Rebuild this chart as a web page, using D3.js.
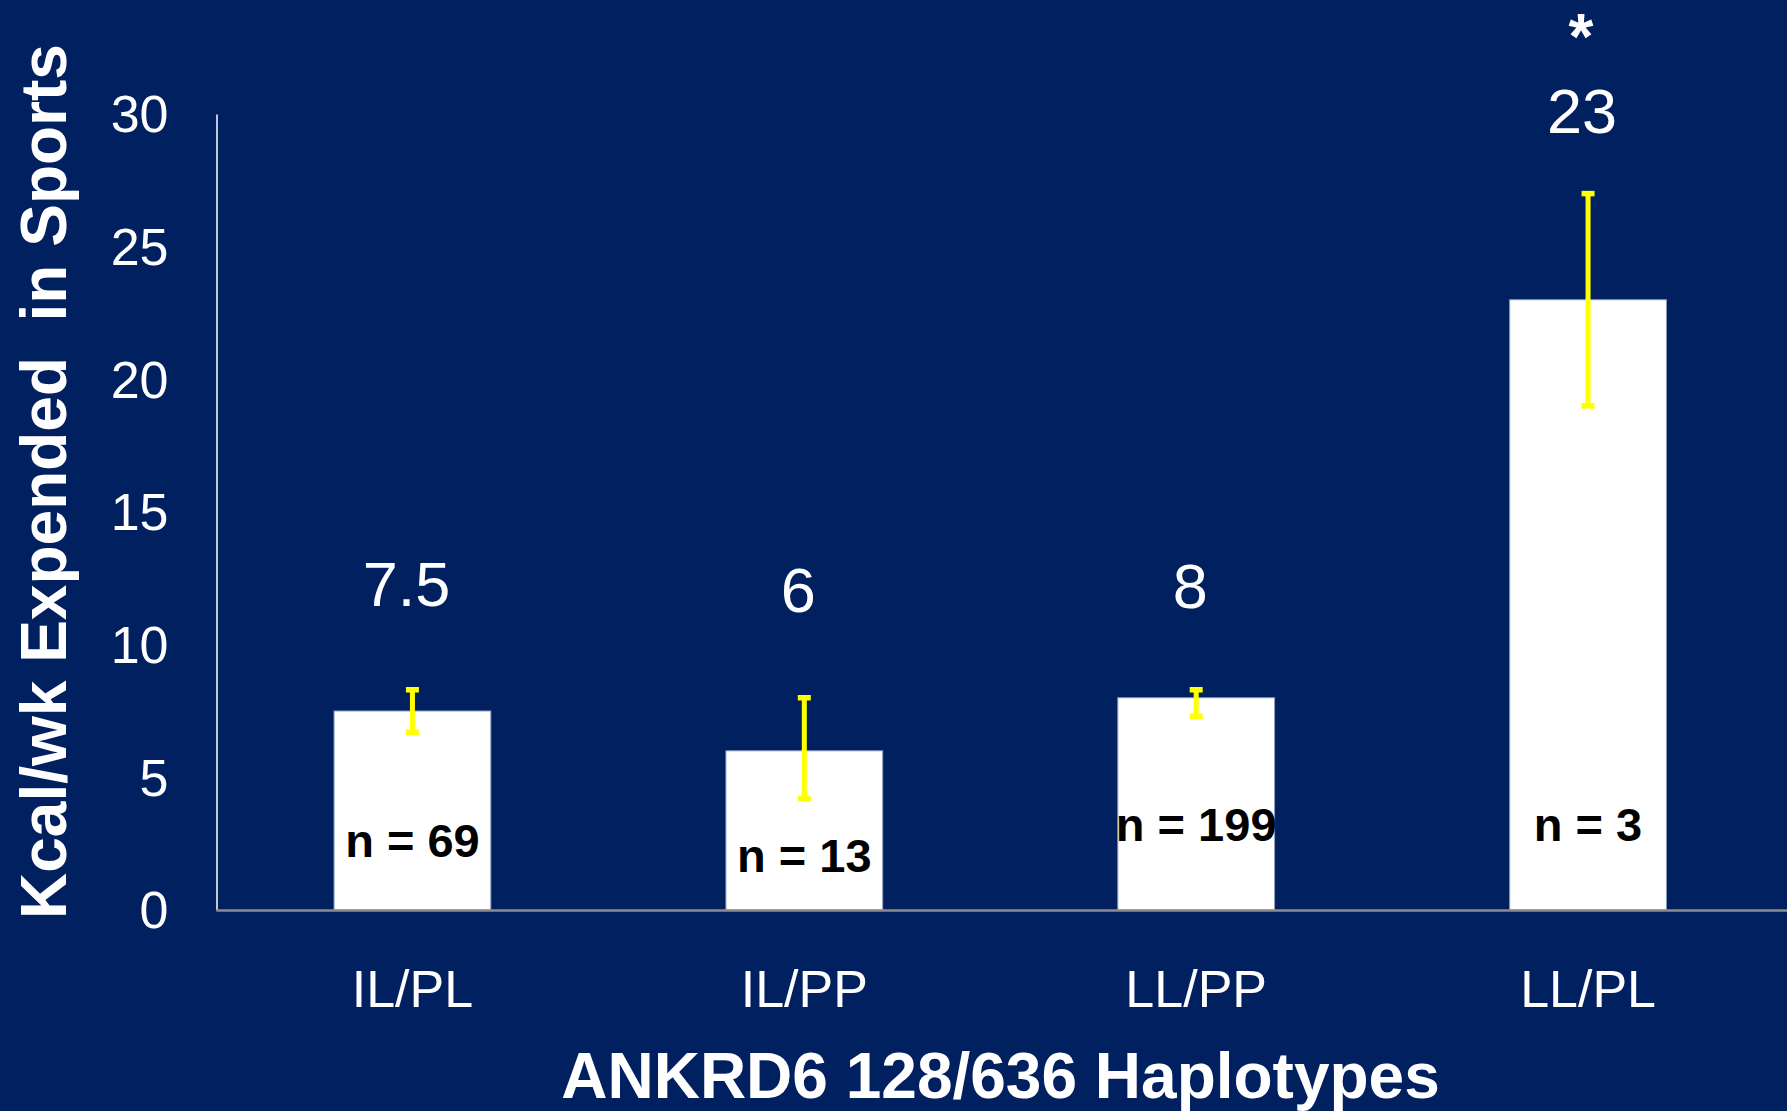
<!DOCTYPE html>
<html>
<head>
<meta charset="utf-8">
<script src="https://cdn.jsdelivr.net/npm/d3@7/dist/d3.min.js"></script>
<style>
  html, body { margin: 0; padding: 0; background: #002060; }
  svg { display: block; }
  text { font-family: "Liberation Sans", Arial, Helvetica, sans-serif; }
</style>
</head>
<body>
<svg id="chart" width="1787" height="1111"></svg>
<script>
// Haplotype groups and mean weekly energy expenditure in sports
const categories = ["IL/PL", "IL/PP", "LL/PP", "LL/PL"];
const means      = [7.5, 6, 8, 23];
const valueText  = ["7.5", "6", "8", "23"];
const errUpper   = [8.3, 8.0, 8.3, 27.0];
const errLower   = [6.7, 4.2, 7.3, 19.0];
const sampleN    = [69, 13, 199, 3];
const significant = [false, false, false, true];
const yTicks     = [0, 5, 10, 15, 20, 25, 30];

// Label placement, in axis units
const valueLabelAt = [11.45, 11.25, 11.4, 29.3];
const nLabelAt     = [2.0, 1.45, 2.6, 2.6];

const W = 1787, H = 1111;
const plot = { left: 216.5, right: 1784, top: 114, bottom: 910 };

const svg = d3.select("#chart");
svg.append("rect").attr("width", W).attr("height", H).attr("fill", "#002060");

const x = d3.scaleBand()
  .domain(categories)
  .range([plot.left, plot.right])
  .paddingInner(0.6)
  .paddingOuter(0.3);

const y = d3.scaleLinear().domain([0, 30]).range([plot.bottom, plot.top]);

const rows = categories.map((c, i) => ({
  cat: c, mean: means[i], text: valueText[i], hi: errUpper[i], lo: errLower[i],
  n: sampleN[i], sig: significant[i], labelAt: valueLabelAt[i], nAt: nLabelAt[i]
}));

// Y axis
const yAxis = svg.append("g")
  .attr("transform", `translate(${plot.left},0)`)
  .call(d3.axisLeft(y).tickValues(yTicks).tickSize(0).tickSizeOuter(0).tickPadding(48));
yAxis.select(".domain").attr("stroke", "#ffffff").attr("stroke-width", 1.5);
yAxis.selectAll(".tick text")
  .attr("fill", "#ffffff")
  .attr("font-size", 52)
  .attr("dy", "0.34em")
  .style("font-family", "'Liberation Sans', Arial, sans-serif");

// Bars
svg.append("g").selectAll("rect")
  .data(rows)
  .join("rect")
  .attr("x", d => x(d.cat))
  .attr("y", d => y(d.mean))
  .attr("width", x.bandwidth())
  .attr("height", d => y(0) - y(d.mean))
  .attr("fill", "#ffffff")
  .attr("stroke", "#8e9cbc")
  .attr("stroke-width", 1);

// Baseline
svg.append("line")
  .attr("x1", plot.left).attr("x2", W)
  .attr("y1", y(0) + 0.5).attr("y2", y(0) + 0.5)
  .attr("stroke", "#8c8c8c").attr("stroke-width", 2.5);

// Error bars
const eb = svg.append("g").selectAll("g")
  .data(rows)
  .join("g")
  .attr("transform", d => `translate(${x(d.cat) + x.bandwidth() / 2},0)`);
eb.append("line")
  .attr("x1", 0).attr("x2", 0)
  .attr("y1", d => y(d.hi)).attr("y2", d => y(d.lo))
  .attr("stroke", "#ffff00").attr("stroke-width", 5);
eb.append("line")
  .attr("x1", -6.5).attr("x2", 6.5)
  .attr("y1", d => y(d.hi)).attr("y2", d => y(d.hi))
  .attr("stroke", "#ffff00").attr("stroke-width", 5.5);
eb.append("line")
  .attr("x1", -6.5).attr("x2", 6.5)
  .attr("y1", d => y(d.lo)).attr("y2", d => y(d.lo))
  .attr("stroke", "#ffff00").attr("stroke-width", 5.5);

// Mean value labels
svg.append("g").selectAll("text")
  .data(rows)
  .join("text")
  .attr("x", d => x(d.cat) + x.bandwidth() / 2 - 6)
  .attr("y", d => y(d.labelAt))
  .attr("text-anchor", "middle")
  .attr("fill", "#ffffff")
  .attr("font-size", 63)
  .text(d => d.text);

// Significance marker
svg.append("g").selectAll("text")
  .data(rows.filter(d => d.sig))
  .join("text")
  .attr("x", d => x(d.cat) + x.bandwidth() / 2 - 7)
  .attr("y", d => y(d.labelAt) - 74)
  .attr("text-anchor", "middle")
  .attr("fill", "#ffffff")
  .attr("font-size", 64)
  .attr("font-weight", "bold")
  .text("*");

// Sample size labels
svg.append("g").selectAll("text")
  .data(rows)
  .join("text")
  .attr("x", d => x(d.cat) + x.bandwidth() / 2)
  .attr("y", d => y(d.nAt))
  .attr("text-anchor", "middle")
  .attr("fill", "#000000")
  .attr("font-size", 47)
  .attr("font-weight", "bold")
  .text(d => `n = ${d.n}`);

// Category labels
const xAxis = svg.append("g")
  .attr("transform", `translate(0,${plot.bottom})`)
  .call(d3.axisBottom(x).tickSize(0).tickSizeOuter(0));
xAxis.select(".domain").remove();
xAxis.selectAll(".tick text")
  .attr("y", 96.5)
  .attr("dy", 0)
  .attr("fill", "#ffffff")
  .attr("font-size", 52)
  .style("font-family", "'Liberation Sans', Arial, sans-serif");

// Axis titles
svg.append("text")
  .attr("x", 1000.5)
  .attr("y", 1097.5)
  .attr("text-anchor", "middle")
  .attr("fill", "#ffffff")
  .attr("font-size", 64)
  .attr("font-weight", "bold")
  .text("ANKRD6 128/636 Haplotypes");

svg.append("text")
  .attr("transform", "translate(66,481.5) rotate(-90)")
  .attr("text-anchor", "middle")
  .attr("fill", "#ffffff")
  .attr("font-size", 64)
  .attr("font-weight", "bold")
  .style("white-space", "pre")
  .text("Kcal/wk Expended  in Sports");
</script>
</body>
</html>
